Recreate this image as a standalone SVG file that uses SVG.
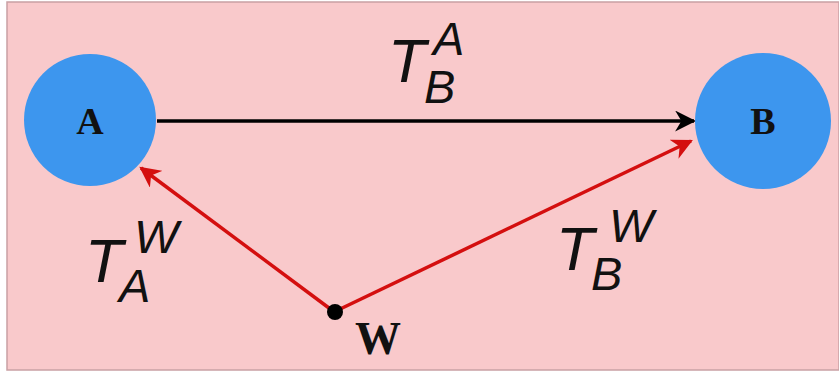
<svg xmlns="http://www.w3.org/2000/svg" width="839" height="372" viewBox="0 0 839 372">
  <style>
    .node { fill: #3d96ee; }
    .lbl { font-family: "Liberation Serif", "Times New Roman", serif; font-weight: bold; fill: #111; text-anchor: middle; }
    .nl { font-size: 38px; }
    .wl { font-size: 46px; }
    .math { font-family: "Liberation Sans", Arial, sans-serif; font-style: italic; fill: #111; }
    .big { font-size: 62px; }
    .small { font-size: 47px; }
    .blk { stroke: #000; stroke-width: 3.5; fill: none; }
    .red { stroke: #d40f0f; stroke-width: 3.5; fill: none; }
  </style>
  <defs>
    <marker id="ahB" viewBox="0 0 10 10" refX="9" refY="5" markerWidth="6" markerHeight="6" markerUnits="strokeWidth" orient="auto">
      <path d="M0,0 L10,5 L0,10 L3,5 Z" fill="#000"/>
    </marker>
    <marker id="ahR" viewBox="0 0 10 10" refX="9" refY="5" markerWidth="6" markerHeight="6" markerUnits="strokeWidth" orient="auto">
      <path d="M0,0 L10,5 L0,10 L3,5 Z" fill="#d40f0f"/>
    </marker>
  </defs>
  <rect x="0" y="0" width="839" height="372" fill="#ffffff"/>
  <rect x="7" y="2" width="832" height="368" fill="#f9c9cb" stroke="#c9a0a4" stroke-width="1.5"/>

  <g id="connectors">
    <line class="blk" x1="157" y1="121" x2="694" y2="121" marker-end="url(#ahB)"/>
    <line class="red" x1="333" y1="311" x2="141" y2="168" marker-end="url(#ahR)"/>
    <line class="red" x1="336" y1="311" x2="691" y2="141" marker-end="url(#ahR)"/>
  </g>

  <g id="nodeA">
    <circle class="node" cx="90" cy="120" r="66"/>
    <text class="lbl nl" x="90" y="134">A</text>
  </g>
  <g id="nodeB">
    <circle class="node" cx="763" cy="121" r="68"/>
    <text class="lbl nl" x="763" y="134">B</text>
  </g>
  <g id="nodeW">
    <circle cx="335" cy="312" r="8" fill="#000"/>
    <text class="lbl wl" x="378" y="354">W</text>
  </g>

  <g id="labelTBA">
    <text class="math big" x="388" y="82">T</text>
    <text class="math small" x="433" y="55" font-size="40">A</text>
    <text class="math small" x="424" y="103">B</text>
  </g>
  <g id="labelTAW">
    <text class="math big" x="85" y="282">T</text>
    <text class="math small" x="134" y="253">W</text>
    <text class="math small" x="119" y="302">A</text>
  </g>
  <g id="labelTBW">
    <text class="math big" x="556" y="270">T</text>
    <text class="math small" x="609" y="242">W</text>
    <text class="math small" x="591" y="290">B</text>
  </g>
</svg>
